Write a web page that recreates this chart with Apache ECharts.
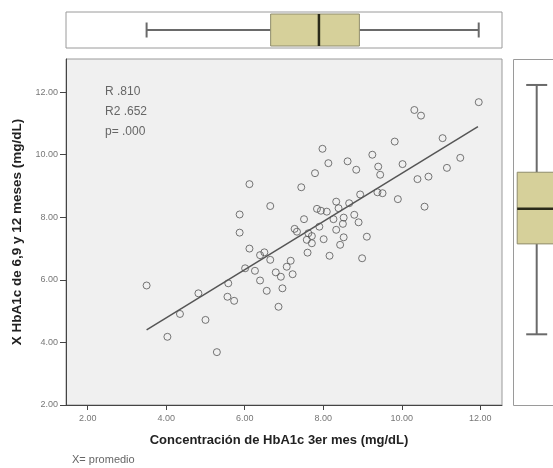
<!DOCTYPE html>
<html><head><meta charset="utf-8">
<script src="https://cdn.jsdelivr.net/npm/echarts@6/dist/echarts.min.js"></script>
<style>html,body{margin:0;padding:0;background:#fff}#c{width:553px;height:468px}</style>
</head><body><div id="c"></div>
<script>
// Scatter data (x = HbA1c 3er mes, y = promedio HbA1c 6, 9 y 12 meses)
const xVals = [
  6.12, 6.65, 5.87, 5.87, 7.27, 7.33, 6.12, 6.39, 6.50, 6.65,
  6.01, 6.26, 6.39, 6.56, 6.79, 6.92, 7.07, 7.17, 7.22, 6.96,
  6.86, 5.58, 5.56, 5.73, 4.82, 4.35, 5.00, 4.03, 5.29, 3.50,
  11.96, 10.32, 10.49, 11.04, 9.82, 7.98, 9.25, 11.49, 8.13, 8.62,
  9.40, 10.02, 11.15, 8.84, 7.79, 9.45, 10.68, 10.40, 7.44, 8.94,
  9.38, 9.51, 9.90, 10.58, 8.33, 8.66, 8.39, 7.84, 7.94, 8.09,
  7.51, 8.26, 8.52, 8.79, 8.50, 8.90, 7.90, 8.33, 7.62, 7.71,
  7.58, 7.71, 8.01, 8.52, 9.11, 8.43, 7.60, 8.16, 8.99
];
const yVals = [
  9.06, 8.36, 8.09, 7.51, 7.63, 7.54, 7.00, 6.79, 6.88, 6.64,
  6.37, 6.29, 5.98, 5.65, 6.24, 6.10, 6.42, 6.61, 6.18, 5.73,
  5.14, 5.89, 5.46, 5.33, 5.57, 4.91, 4.72, 4.18, 3.69, 5.82,
  11.68, 11.43, 11.25, 10.53, 10.42, 10.19, 10.00, 9.90, 9.73, 9.79,
  9.62, 9.70, 9.58, 9.52, 9.41, 9.36, 9.30, 9.22, 8.96, 8.73,
  8.80, 8.77, 8.58, 8.34, 8.50, 8.45, 8.29, 8.27, 8.21, 8.18,
  7.94, 7.94, 7.99, 8.08, 7.79, 7.84, 7.70, 7.60, 7.49, 7.40,
  7.28, 7.17, 7.30, 7.36, 7.38, 7.12, 6.87, 6.77, 6.69
];
// Regression line end points
const regX = [3.50, 11.94];
const regY = [4.40, 10.90];
// Box plots: [min, Q1, median, Q3, max]
const boxX = [3.50, 6.66, 7.89, 8.92, 11.96];
const boxY = [4.26, 7.15, 8.27, 9.44, 12.23];
// Ticks
const xTicks = [2, 4, 6, 8, 10, 12];
const xTickLabels = ['2.00', '4.00', '6.00', '8.00', '10.00', '12.00'];
const yTicks = [2, 4, 6, 8, 10, 12];
const yTickLabels = ['2.00', '4.00', '6.00', '8.00', '10.00', '12.00'];
// Texts
const statLabels = ['R .810', 'R2 .652', 'p= .000'];
const xTitle = 'Concentración de HbA1c 3er mes (mg/dL)';
const yTitle = 'X HbA1c de 6,9 y 12 meses (mg/dL)';
const noteText = 'X= promedio';

const X_MIN = 1.447, X_MAX = 12.553, Y_MIN = 2, Y_MAX = 13.06;
const FONT = 'Liberation Sans, Arial, sans-serif';

const chart = echarts.init(document.getElementById('c'), null, {renderer: 'canvas'});

const scatterData = xVals.map((x, i) => [x, yVals[i]]);
const regData = regX.map((x, i) => [x, regY[i]]);

function boxStyle() {
  return {
    whisker: {stroke: '#6a6a6a', lineWidth: 2},
    box: {fill: '#d6d09a', stroke: '#8f8c6c', lineWidth: 1},
    median: {stroke: '#2a2a1a', lineWidth: 2.5}
  };
}

function renderHBox(params, api) {
  const s = boxStyle();
  const yc = api.coord([boxX[2], 0.5])[1];
  const p = boxX.map(v => api.coord([v, 0.5])[0]);
  const hb = 16, hc = 7.5;
  return {type: 'group', children: [
    {type: 'line', shape: {x1: p[0], y1: yc, x2: p[1], y2: yc}, style: s.whisker},
    {type: 'line', shape: {x1: p[3], y1: yc, x2: p[4], y2: yc}, style: s.whisker},
    {type: 'line', shape: {x1: p[0], y1: yc - hc, x2: p[0], y2: yc + hc}, style: s.whisker},
    {type: 'line', shape: {x1: p[4], y1: yc - hc, x2: p[4], y2: yc + hc}, style: s.whisker},
    {type: 'rect', shape: {x: p[1], y: yc - hb, width: p[3] - p[1], height: 2 * hb}, style: s.box},
    {type: 'line', shape: {x1: p[2], y1: yc - hb, x2: p[2], y2: yc + hb}, style: s.median}
  ]};
}

function renderVBox(params, api) {
  const s = boxStyle();
  const xc = api.coord([0.5, boxY[2]])[0];
  const p = boxY.map(v => api.coord([0.5, v])[1]);
  const hb = 19.5, hc = 10.5;
  return {type: 'group', children: [
    {type: 'line', shape: {x1: xc, y1: p[0], x2: xc, y2: p[1]}, style: s.whisker},
    {type: 'line', shape: {x1: xc, y1: p[3], x2: xc, y2: p[4]}, style: s.whisker},
    {type: 'line', shape: {x1: xc - hc, y1: p[0], x2: xc + hc, y2: p[0]}, style: s.whisker},
    {type: 'line', shape: {x1: xc - hc, y1: p[4], x2: xc + hc, y2: p[4]}, style: s.whisker},
    {type: 'rect', shape: {x: xc - hb, y: p[3], width: 2 * hb, height: p[1] - p[3]}, style: s.box},
    {type: 'line', shape: {x1: xc - hb, y1: p[2], x2: xc + hb, y2: p[2]}, style: s.median}
  ]};
}

// The right panel runs past the canvas edge: its visible part is 40px of a ~47px panel
const RIGHT_PANEL_VISIBLE = 40 / 47.4;

const option = {
  backgroundColor: '#ffffff',
  animation: false,
  textStyle: {fontFamily: FONT},
  grid: [
    {left: 66, top: 59, width: 436, height: 346, show: true, backgroundColor: '#f0f0f0', borderColor: '#9a9a9a', borderWidth: 1},
    {left: 66, top: 12, width: 436, height: 36, show: true, backgroundColor: '#ffffff', borderColor: '#9a9a9a', borderWidth: 1},
    {left: 513, top: 59, width: 40, height: 346, show: false}
  ],
  xAxis: [
    {
      type: 'value', gridIndex: 0, min: X_MIN, max: X_MAX,
      name: xTitle, nameLocation: 'middle', nameGap: 29,
      nameTextStyle: {fontSize: 13, fontWeight: 'bold', color: '#222', fontFamily: FONT, padding: [0, 10, 0, 0]},
      axisLine: {show: true, lineStyle: {color: '#444', width: 1}},
      axisTick: {show: true, length: 5, customValues: xTicks, lineStyle: {color: '#444'}},
      axisLabel: {show: true, customValues: xTicks, margin: 9, fontSize: 9, color: '#777', fontFamily: FONT,
        formatter: v => xTickLabels[xTicks.indexOf(v)]},
      splitLine: {show: false}
    },
    {type: 'value', gridIndex: 1, min: X_MIN, max: X_MAX, show: false},
    {type: 'value', gridIndex: 2, min: 0, max: RIGHT_PANEL_VISIBLE, show: false}
  ],
  yAxis: [
    {
      type: 'value', gridIndex: 0, min: Y_MIN, max: Y_MAX,
      name: yTitle, nameLocation: 'middle', nameGap: 37, nameRotate: 90,
      nameTextStyle: {fontSize: 13.5, fontWeight: 'bold', color: '#222', fontFamily: FONT},
      axisLine: {show: true, lineStyle: {color: '#444', width: 1}},
      axisTick: {show: true, length: 6, customValues: yTicks, lineStyle: {color: '#444'}},
      axisLabel: {show: true, customValues: yTicks, margin: 8, fontSize: 9, color: '#777', fontFamily: FONT,
        formatter: v => yTickLabels[yTicks.indexOf(v)]},
      splitLine: {show: false}
    },
    {type: 'value', gridIndex: 1, min: 0, max: 1, show: false},
    {type: 'value', gridIndex: 2, min: Y_MIN, max: Y_MAX, show: false}
  ],
  series: [
    {
      type: 'scatter', xAxisIndex: 0, yAxisIndex: 0, data: scatterData,
      symbol: 'circle', symbolSize: 7,
      itemStyle: {color: 'rgba(0,0,0,0)', borderColor: '#555', borderWidth: 1},
      z: 3
    },
    {
      type: 'line', xAxisIndex: 0, yAxisIndex: 0, data: regData,
      showSymbol: false, symbol: 'none',
      lineStyle: {color: '#555', width: 1.5}, z: 4
    },
    {
      type: 'custom', xAxisIndex: 1, yAxisIndex: 1,
      data: [[boxX[2], 0.5]], renderItem: renderHBox
    },
    {
      type: 'custom', xAxisIndex: 2, yAxisIndex: 2,
      data: [[0.5, boxY[2]]], renderItem: renderVBox
    }
  ],
  graphic: [
    {type: 'rect', z: -1, shape: {x: 513.5, y: 59.5, width: 60, height: 346},
      style: {fill: '#ffffff', stroke: '#9a9a9a', lineWidth: 1}},
    ...statLabels.map((t, i) => ({
      type: 'text', left: 105, top: 86 + i * 20,
      style: {text: t, fontSize: 12, fill: '#666', fontFamily: FONT}
    })),
    {type: 'text', left: 72, top: 454, style: {text: noteText, fontSize: 11, fill: '#666', fontFamily: FONT}}
  ]
};
chart.setOption(option);
</script>
</body></html>
